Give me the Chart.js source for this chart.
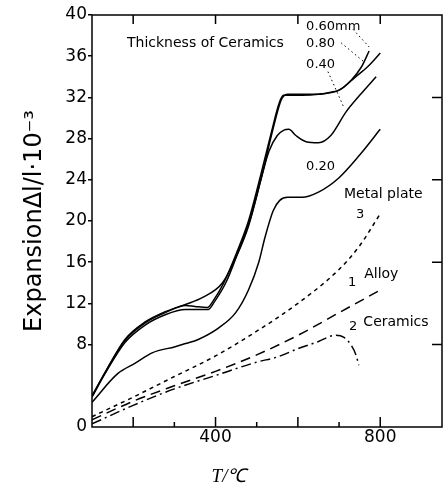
<!DOCTYPE html>
<html>
<head>
<title>Expansion</title>
<script src="https://cdn.jsdelivr.net/npm/chart.js@4.4.1/dist/chart.umd.min.js"></script>
<style>
  html, body { margin: 0; padding: 0; background: #fff; }
  #wrap { width: 447px; height: 492px; }
</style>
</head>
<body>
<div id="wrap"><canvas id="canvas"></canvas></div>
<script>
// temperatures (°C) and expansion (1e-3)
const t060 = [100, 132, 180, 229, 278, 327, 370, 417, 450, 480, 510, 540, 558, 565, 575, 610, 650, 680, 700, 730, 755, 773];
const v060 = [3.0, 5.3, 8.5, 10.2, 11.2, 11.9, 12.6, 14.0, 16.5, 19.5, 24.0, 29.0, 31.6, 32.1, 32.3, 32.3, 32.3, 32.5, 32.7, 33.7, 35.0, 36.5];
const t080 = [100, 132, 180, 229, 278, 327, 350, 380, 395, 420, 450, 480, 510, 535, 555, 565, 610, 650, 700, 740, 770, 800];
const v080 = [3.0, 5.3, 8.4, 10.1, 11.1, 11.8, 11.7, 11.6, 12.3, 14.0, 16.8, 20.0, 24.5, 28.5, 31.5, 32.2, 32.2, 32.3, 32.7, 34.0, 35.0, 36.3];
const t040 = [100, 132, 180, 229, 278, 327, 355, 382, 398, 425, 455, 485, 510, 530, 550, 565, 578, 595, 620, 650, 680, 717, 750, 790];
const v040 = [2.9, 5.2, 8.2, 9.9, 10.9, 11.4, 11.4, 11.4, 12.2, 14.0, 17.0, 20.3, 24.0, 26.8, 28.3, 28.8, 28.9, 28.3, 27.7, 27.6, 28.3, 30.6, 32.2, 34.0];
const t020 = [100, 163, 205, 246, 302, 327, 358, 407, 449, 480, 505, 520, 540, 556, 575, 610, 650, 700, 750, 800];
const v020 = [2.4, 5.2, 6.2, 7.2, 7.8, 8.1, 8.5, 9.6, 11.1, 13.3, 16.0, 18.4, 21.0, 22.0, 22.3, 22.3, 22.8, 24.2, 26.4, 28.9];
const tMetal = [100, 200, 300, 400, 500, 600, 700, 750, 800];
const vMetal = [1.0, 2.9, 4.9, 6.9, 9.3, 12.0, 15.3, 17.6, 20.7];
const tAlloy = [100, 200, 300, 400, 500, 600, 700, 800];
const vAlloy = [0.7, 2.5, 4.0, 5.4, 7.0, 8.9, 11.1, 13.3];
const tCeram = [100, 200, 300, 400, 500, 550, 600, 650, 690, 712, 730, 741, 748];
const vCeram = [0.3, 2.1, 3.7, 5.0, 6.3, 6.8, 7.6, 8.3, 8.9, 8.7, 7.9, 7.0, 6.0];

const yTicks = [0, 8, 12, 16, 20, 24, 28, 32, 36, 40];
const xLabels = [400, 800];

const pts = (t, v) => t.map((x, i) => ({ x: x, y: v[i] }));

function line(label, t, v, dash) {
  return {
    label: label,
    data: pts(t, v),
    borderColor: '#000',
    borderWidth: 1.5,
    borderDash: dash || [],
    pointRadius: 0,
    showLine: true,
    cubicInterpolationMode: 'monotone',
    fill: false
  };
}

const FONT = 'DejaVu Sans';

// frame, inward ticks and curve labels
const decor = {
  id: 'decor',
  afterDatasetsDraw(chart) {
    const { ctx, chartArea: a, scales: { x, y } } = chart;
    ctx.save();
    ctx.strokeStyle = '#000';
    ctx.lineWidth = 1.5;
    ctx.setLineDash([]);
    ctx.strokeRect(a.left, a.top, a.right - a.left, a.bottom - a.top);

    ctx.beginPath();
    [200, 300, 400, 500, 600, 700, 800].forEach(t => {
      const px = x.getPixelForValue(t);
      const len = t % 200 === 0 ? 10 : 5;
      ctx.moveTo(px, a.bottom);
      ctx.lineTo(px, a.bottom - len);
    });
    [200, 400, 600, 800].forEach(t => {
      const px = x.getPixelForValue(t);
      ctx.moveTo(px, a.top);
      ctx.lineTo(px, a.top + 9);
    });
    [8, 16, 24, 32].forEach(v => {
      const py = y.getPixelForValue(v);
      ctx.moveTo(a.right, py);
      ctx.lineTo(a.right - 10, py);
    });
    ctx.stroke();

    // dotted leaders from thickness labels
    ctx.lineWidth = 1;
    ctx.setLineDash([1.5, 3]);
    ctx.beginPath();
    [[734, 38.6, 773, 36.9], [705, 37.3, 759, 35.5], [673, 34.5, 712, 31.0]].forEach(s => {
      ctx.moveTo(x.getPixelForValue(s[0]), y.getPixelForValue(s[1]));
      ctx.lineTo(x.getPixelForValue(s[2]), y.getPixelForValue(s[3]));
    });
    ctx.stroke();

    ctx.fillStyle = '#000';
    ctx.textAlign = 'left';
    ctx.textBaseline = 'middle';
    [
      ['Thickness of Ceramics', 185, 37.2, 14],
      ['0.60mm', 620, 38.9, 13],
      ['0.80', 620, 37.2, 13],
      ['0.40', 620, 35.2, 13],
      ['0.20', 620, 25.3, 13],
      ['Metal plate', 712, 22.6, 14],
      ['3', 741, 20.6, 13],
      ['1', 722, 14.0, 13],
      ['Alloy', 761, 14.8, 14],
      ['2', 724, 9.7, 13],
      ['Ceramics', 759, 10.2, 14]
    ].forEach(l => {
      ctx.font = l[3] + 'px "' + FONT + '"';
      ctx.fillText(l[0], x.getPixelForValue(l[1]), y.getPixelForValue(l[2]));
    });
    ctx.restore();
  }
};

new Chart(document.getElementById('canvas'), {
  type: 'scatter',
  data: {
    datasets: [
      line('0.60mm', t060, v060),
      line('0.80', t080, v080),
      line('0.40', t040, v040),
      line('0.20', t020, v020),
      line('3 Metal plate', tMetal, vMetal, [4, 4]),
      line('1 Alloy', tAlloy, vAlloy, [10, 6]),
      line('2 Ceramics', tCeram, vCeram, [10, 4, 2, 4])
    ]
  },
  options: {
    responsive: true,
    maintainAspectRatio: false,
    animation: false,
    layout: { padding: { top: 15, right: 5, left: 0, bottom: 0 } },
    plugins: { legend: { display: false }, tooltip: { enabled: false } },
    scales: {
      x: {
        type: 'linear',
        min: 100,
        max: 950,
        afterFit(s) { s.height = 65; },
        afterBuildTicks(s) { s.ticks = xLabels.map(v => ({ value: v })); },
        grid: { display: false, drawTicks: false },
        border: { display: false },
        ticks: { color: '#000', padding: 0, font: { family: FONT, size: 17 } },
        title: {
          display: true,
          text: 'T/\u2103\u2003\u2003\u2003\u2003',
          color: '#000',
          padding: { bottom: 4 },
          font: { family: 'Liberation Serif', size: 19, style: 'italic' }
        }
      },
      y: {
        type: 'linear',
        min: 0,
        max: 40,
        afterFit(s) { s.width = 92; },
        afterBuildTicks(s) { s.ticks = yTicks.map(v => ({ value: v })); },
        grid: {
          drawOnChartArea: false,
          tickLength: 4,
          lineWidth: 1.5,
          color: c => (c.tick && c.tick.value === 0 ? 'rgba(0,0,0,0)' : '#000')
        },
        border: { display: false },
        ticks: { color: '#000', padding: 1, font: { family: FONT, size: 17 } },
        title: {
          display: true,
          text: 'Expansion\u0394l/l\u00b710\u207b\u00b3',
          color: '#000',
          padding: { top: 20 },
          font: { family: FONT, size: 24 }
        }
      }
    }
  },
  plugins: [decor]
});
</script>
</body>
</html>
